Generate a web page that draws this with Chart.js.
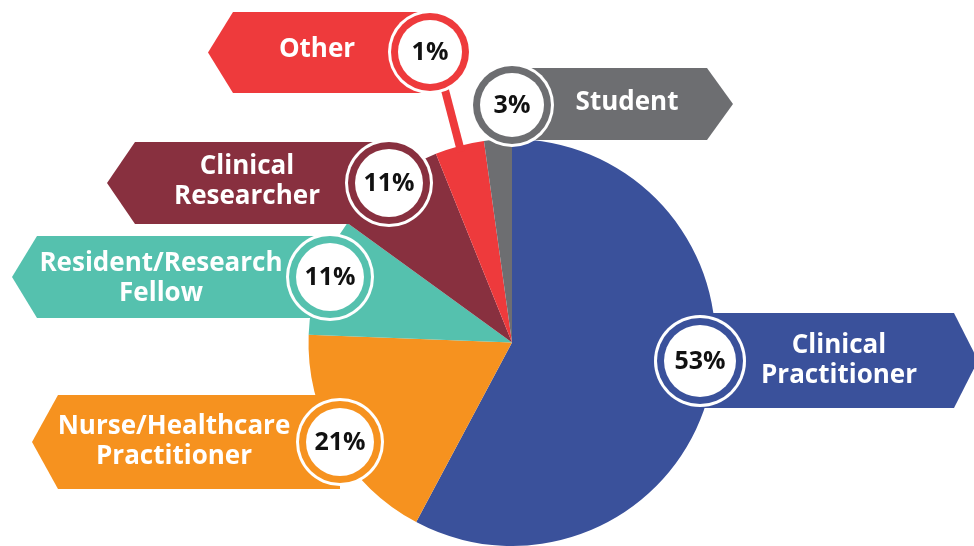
<!DOCTYPE html>
<html>
<head>
<meta charset="utf-8">
<script src="https://cdn.jsdelivr.net/npm/chart.js@4/dist/chart.umd.min.js"></script>
<style>
  html, body { margin: 0; padding: 0; background: #ffffff; }
  #wrap { width: 974px; height: 546px; position: relative; }
</style>
</head>
<body>
<div id="wrap"><canvas id="c" width="974" height="546"></canvas></div>
<script>
// ---- data ----
const categories = ['Clinical Practitioner', 'Nurse/Healthcare Practitioner', 'Resident/Research Fellow', 'Clinical Researcher', 'Other', 'Student'];
const percentLabels = ['53%', '21%', '11%', '11%', '1%', '3%'];
// share of the circle each sector actually occupies in the picture (measured angles)
const sliceShares = [57.8, 17.8, 9.4, 8.9, 3.9, 2.2];
const sliceColors = ['#3A519B', '#F6921F', '#55C1AE', '#88303F', '#EE3A3C', '#6D6E71'];
const labelLines = [['Clinical', 'Practitioner'], ['Nurse/Healthcare', 'Practitioner'], ['Resident/Research', 'Fellow'], ['Clinical', 'Researcher'], ['Other'], ['Student']];

// ---- banner layout (positions/sizes only) ----
const bannerLayout = [
  { dir: 'right', start: 700, tip: 978, slant: 24, top: 313, bottom: 408, cx: 700, cy: 361, r: 46, tx: 839, ty: 361 },
  { dir: 'left',  start: 340, tip: 32,  slant: 26, top: 395, bottom: 489, cx: 340, cy: 442, r: 44, tx: 174, ty: 442 },
  { dir: 'left',  start: 330, tip: 12,  slant: 25, top: 236, bottom: 318, cx: 330, cy: 277, r: 44, tx: 161, ty: 279 },
  { dir: 'left',  start: 389, tip: 107, slant: 28, top: 142, bottom: 224, cx: 389, cy: 183, r: 44, tx: 247, ty: 182 },
  { dir: 'left',  start: 430, tip: 208, slant: 25, top: 12,  bottom: 93,  cx: 430, cy: 52,  r: 42, tx: 317, ty: 50,
    connector: { x1: 445, y1: 90, frac: 0.5, rr: 0.97 } },
  { dir: 'right', start: 512, tip: 733, slant: 26, top: 68,  bottom: 140, cx: 512, cy: 105, r: 42, tx: 627, ty: 103 }
];

const bannerPlugin = {
  id: 'banners',
  afterDatasetsDraw(chart) {
    const ctx = chart.ctx;
    const meta = chart.getDatasetMeta(0);
    ctx.save();
    bannerLayout.forEach((b, i) => {
      const color = sliceColors[i];
      const mid = (b.top + b.bottom) / 2;
      // connector line into the sector
      if (b.connector) {
        const arc = meta.data[i];
        const ang = arc.startAngle + (arc.endAngle - arc.startAngle) * b.connector.frac;
        const px = arc.x + Math.cos(ang) * arc.outerRadius * b.connector.rr;
        const py = arc.y + Math.sin(ang) * arc.outerRadius * b.connector.rr;
        ctx.strokeStyle = color;
        ctx.lineWidth = 8;
        ctx.lineCap = 'butt';
        ctx.beginPath();
        ctx.moveTo(b.connector.x1, b.connector.y1);
        ctx.lineTo(px, py);
        ctx.stroke();
      }
      // arrow banner
      ctx.fillStyle = color;
      ctx.beginPath();
      if (b.dir === 'left') {
        ctx.moveTo(b.tip, mid);
        ctx.lineTo(b.tip + b.slant, b.top);
        ctx.lineTo(b.start, b.top);
        ctx.lineTo(b.start, b.bottom);
        ctx.lineTo(b.tip + b.slant, b.bottom);
      } else {
        ctx.moveTo(b.start, b.top);
        ctx.lineTo(b.tip - b.slant, b.top);
        ctx.lineTo(b.tip, mid);
        ctx.lineTo(b.tip - b.slant, b.bottom);
        ctx.lineTo(b.start, b.bottom);
      }
      ctx.closePath();
      ctx.fill();
      // category text
      ctx.fillStyle = '#ffffff';
      ctx.font = 'bold 26px "Open Sans", sans-serif';
      ctx.textAlign = 'center';
      ctx.textBaseline = 'middle';
      const lines = labelLines[i];
      const lh = 30;
      lines.forEach((ln, k) => {
        ctx.fillText(ln, b.tx, b.ty + (k - (lines.length - 1) / 2) * lh);
      });
      // badge
      ctx.fillStyle = '#ffffff';
      ctx.beginPath(); ctx.arc(b.cx, b.cy, b.r, 0, Math.PI * 2); ctx.fill();
      ctx.fillStyle = color;
      ctx.beginPath(); ctx.arc(b.cx, b.cy, b.r - 3, 0, Math.PI * 2); ctx.fill();
      ctx.fillStyle = '#ffffff';
      ctx.beginPath(); ctx.arc(b.cx, b.cy, b.r - 10, 0, Math.PI * 2); ctx.fill();
      ctx.fillStyle = '#111111';
      ctx.font = 'bold 25px "Open Sans", sans-serif';
      ctx.fillText(percentLabels[i], b.cx, b.cy + 1);
    });
    ctx.restore();
  }
};

new Chart(document.getElementById('c'), {
  type: 'pie',
  data: {
    labels: categories,
    datasets: [{
      data: sliceShares,
      backgroundColor: sliceColors,
      borderWidth: 0
    }]
  },
  options: {
    responsive: false,
    animation: false,
    layout: { padding: { top: 139, bottom: 0, left: 50, right: 0 } },
    plugins: { legend: { display: false }, tooltip: { enabled: false } }
  },
  plugins: [bannerPlugin]
});
</script>
</body>
</html>
